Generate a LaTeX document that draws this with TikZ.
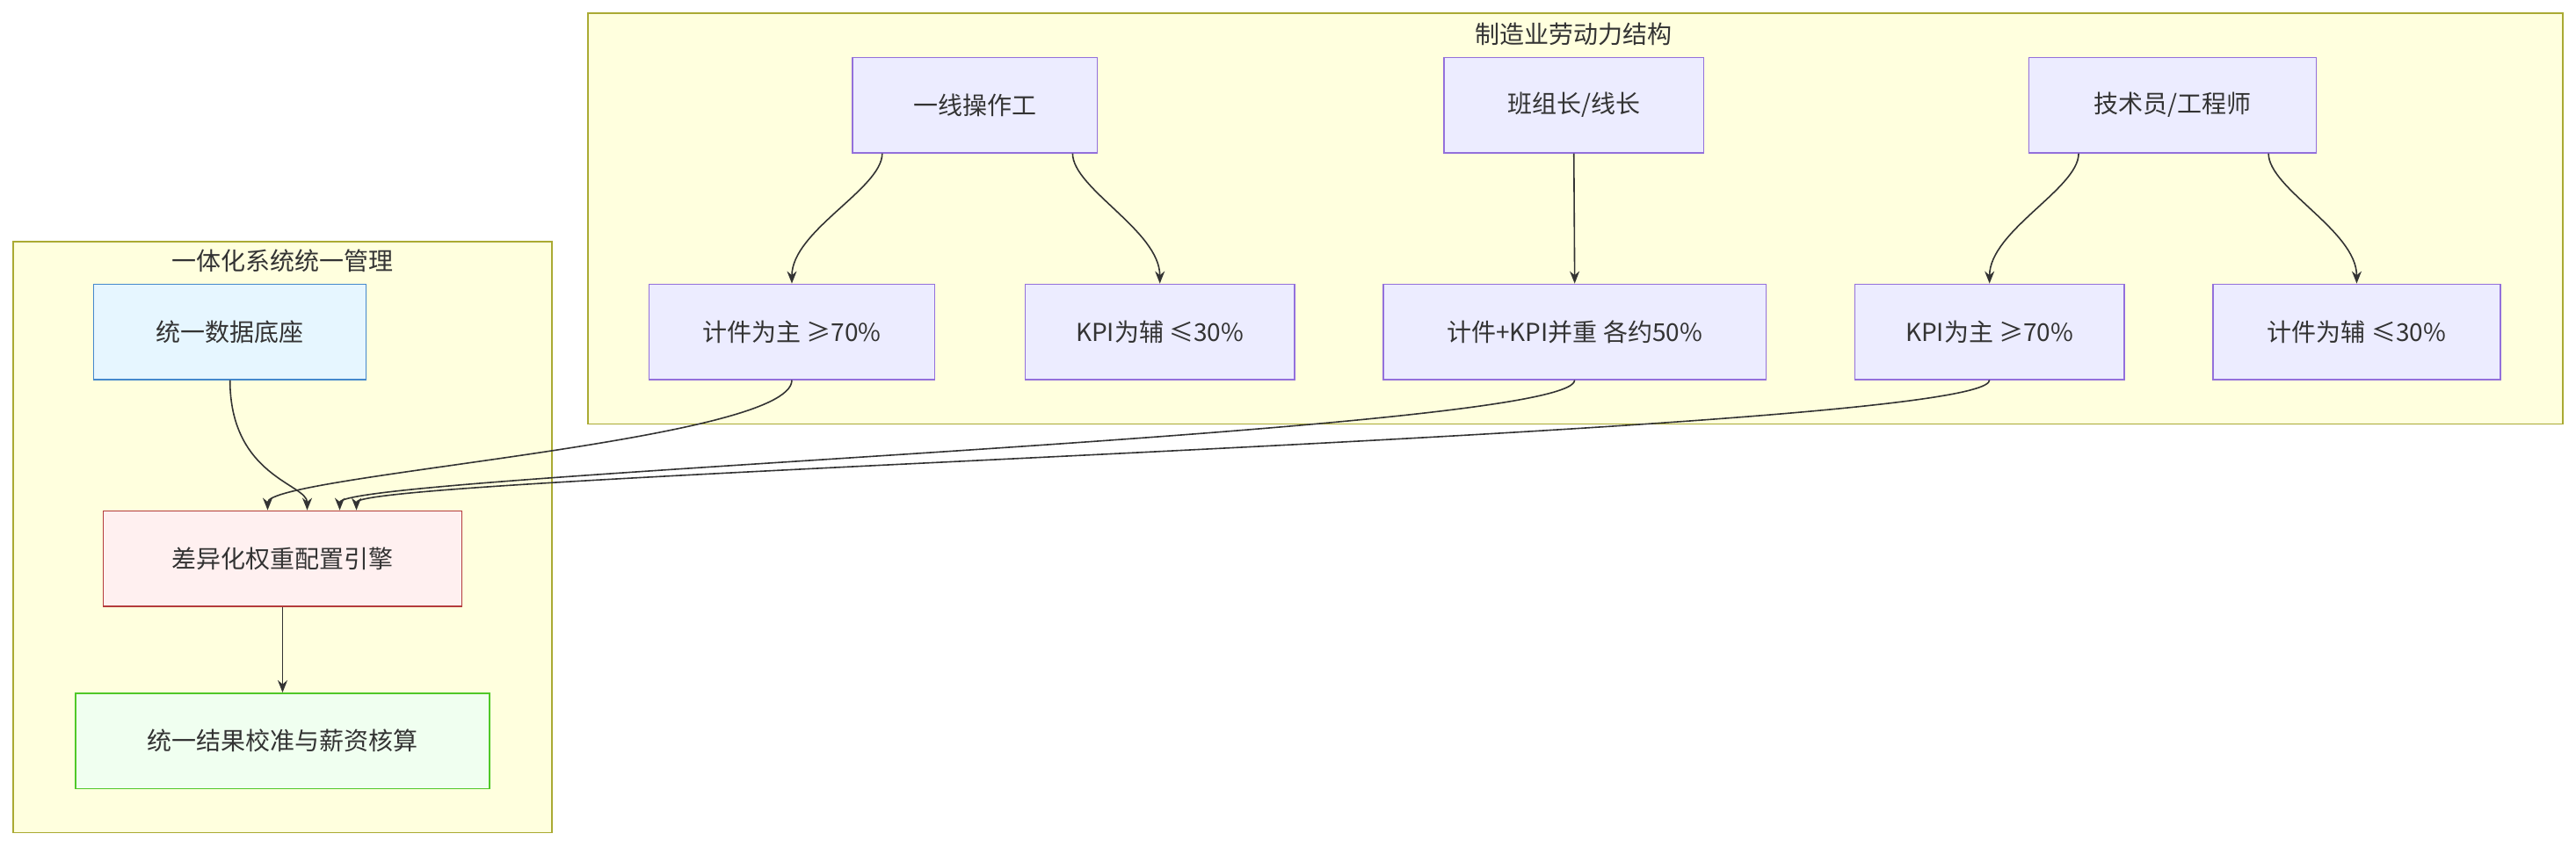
\documentclass[tikz,border=0pt]{standalone}
\usepackage{fontspec}
\setmainfont{Noto Sans CJK SC}
\usetikzlibrary{arrows.meta}
\definecolor{nodefill}{HTML}{ECECFF}
\definecolor{nodeline}{HTML}{9370DB}
\definecolor{clfill}{HTML}{FFFFDE}
\definecolor{clline}{HTML}{AAAA33}
\definecolor{edge}{HTML}{333333}
\definecolor{dline}{HTML}{4488CC}
\definecolor{dfill}{HTML}{E6F6FF}
\definecolor{eline}{HTML}{B43C3C}
\definecolor{efill}{HTML}{FFF0F0}
\definecolor{fline}{HTML}{50C828}
\definecolor{ffill}{HTML}{F0FFF0}
\begin{document}
\begin{tikzpicture}[x=1.869pt,y=-1.869pt,
  box/.style={draw=nodeline,fill=nodefill,line width=1.5pt,minimum height=108.4pt,inner sep=0pt,font=\fontsize{28}{34}\selectfont,text=edge},
  cluster/.style={draw=clline,fill=clfill,line width=1.5pt},
  ctitle/.style={font=\fontsize{28}{34}\selectfont,text=edge},
  arr/.style={draw=edge,line width=1.6pt,-{Stealth[length=14pt,width=11pt]}}]
\useasboundingbox (0,0) rectangle (1568,515.8);
\fill[white] (0,0) rectangle (1568,515.8);
\draw[cluster] (358,8) rectangle (1560,258);
\node[ctitle] (t1) at (958,21) {制造业劳动力结构};
\draw[cluster] (8,147) rectangle (336,507);
\node[ctitle] (t2) at (172,159) {一体化系统统一管理};

\node[box,minimum width=278.5pt] (a) at (593.5,64) {一线操作工};
\node[box,minimum width=295.3pt] (b) at (958,64) {班组长/线长};
\node[box,minimum width=327pt] (c) at (1322.5,64) {技术员/工程师};
\node[box,minimum width=325pt] (a1) at (482,202) {计件为主 ≥70\%};
\node[box,minimum width=306.5pt] (a2) at (706,202) {KPI为辅 ≤30\%};
\node[box,minimum width=435.5pt] (b1) at (958.5,202) {计件+KPI并重 各约50\%};
\node[box,minimum width=306.5pt] (c1) at (1211,202) {KPI为主 ≥70\%};
\node[box,minimum width=327pt] (c2) at (1434.5,202) {计件为辅 ≤30\%};
\node[box,minimum width=310pt,draw=dline,fill=dfill] (d) at (140,202) {统一数据底座};
\node[box,minimum width=407.5pt,draw=eline,fill=efill] (e) at (172,340) {差异化权重配置引擎};
\node[box,minimum width=471pt,draw=fline,fill=ffill] (f) at (172,451) {统一结果校准与薪资核算};

\draw[arr] ([xshift=-105.6pt]a.south) .. controls ++(0,-40pt) and ++(0,60pt) .. (a1.north);
\draw[arr] ([xshift=111pt]a.south) .. controls ++(0,-40pt) and ++(0,60pt) .. (a2.north);
\draw[arr] (b.south) -- (b1.north);
\draw[arr] ([xshift=-107pt]c.south) .. controls ++(0,-40pt) and ++(0,60pt) .. (c1.north);
\draw[arr] ([xshift=109pt]c.south) .. controls ++(0,-40pt) and ++(0,60pt) .. (c2.north);
\draw[arr] (d.south) .. controls ++(0,-110pt) and ++(0,30pt) .. ([xshift=28pt]e.north);
\draw[arr] (a1.south) .. controls ++(0,-70pt) and ++(0,40pt) .. ([xshift=-17pt]e.north);
\draw[arr] (b1.south) .. controls ++(0,-60pt) and ++(0,40pt) .. ([xshift=65pt]e.north);
\draw[arr] (c1.south) .. controls ++(0,-60pt) and ++(0,40pt) .. ([xshift=84pt]e.north);
\draw[arr] (e.south) -- (f.north);
\end{tikzpicture}
\end{document}
